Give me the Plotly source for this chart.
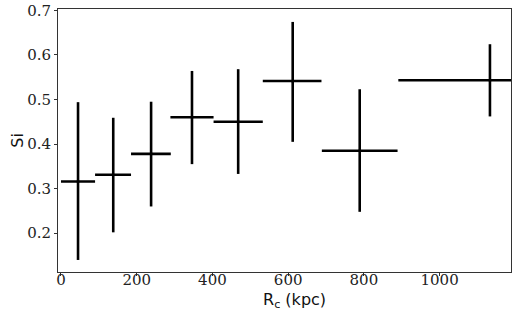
import plotly.graph_objects as go

rc = [45, 138, 238, 346, 468, 612, 789, 1133]
rc_lo = [0, 90, 185, 289, 403, 533, 689, 891]
rc_hi = [90, 185, 290, 403, 533, 688, 889, 1375]
si = [0.316, 0.331, 0.378, 0.460, 0.450, 0.5415, 0.385, 0.543]
si_lo = [0.140, 0.202, 0.260, 0.355, 0.333, 0.405, 0.248, 0.462]
si_hi = [0.494, 0.459, 0.495, 0.564, 0.568, 0.674, 0.523, 0.624]
xticks = [0, 200, 400, 600, 800, 1000]
yticks = [0.2, 0.3, 0.4, 0.5, 0.6, 0.7]

ex_m = [c - l for c, l in zip(rc, rc_lo)]
ex_p = [h - c for c, h in zip(rc, rc_hi)]
ey_m = [c - l for c, l in zip(si, si_lo)]
ey_p = [h - c for c, h in zip(si, si_hi)]

fig = go.Figure()
fig.add_trace(go.Scatter(
    x=rc, y=si, mode="markers",
    marker=dict(color="black", size=3),
    error_x=dict(type="data", symmetric=False, array=ex_p, arrayminus=ex_m,
                 color="black", thickness=2.6, width=0),
    error_y=dict(type="data", symmetric=False, array=ey_p, arrayminus=ey_m,
                 color="black", thickness=2.6, width=0),
    showlegend=False, cliponaxis=True,
))

tickfont = dict(family="DejaVu Serif", size=15, color="#222")
fig.update_layout(
    width=521, height=313, autosize=False,
    margin=dict(l=58, r=10, t=9, b=41, autoexpand=False),
    paper_bgcolor="white", plot_bgcolor="white",
    xaxis=dict(range=[-7.9, 1188.6], tickvals=xticks,
               ticktext=[str(v) for v in xticks],
               showgrid=False, zeroline=False, automargin=False,
               showline=True, mirror=True, linecolor="#333", linewidth=1,
               ticks="outside", ticklen=3, tickcolor="#333",
               ticklabelstandoff=-9, ticklabeloverflow="allow",
               tickfont=tickfont),
    yaxis=dict(range=[0.113, 0.703], tickvals=yticks,
               ticktext=[f"{v:.1f}" for v in yticks],
               showgrid=False, zeroline=False, automargin=False,
               showline=True, mirror=True, linecolor="#333", linewidth=1,
               ticks="outside", ticklen=3, tickcolor="#333",
               ticklabelstandoff=0, ticklabeloverflow="allow",
               tickfont=tickfont),
    annotations=[
        dict(text="R<sub>c</sub> (kpc)", xref="paper", yref="paper",
             x=0.523, y=-0.108, xanchor="center", yanchor="middle", showarrow=False,
             font=dict(family="DejaVu Sans", size=16, color="#111")),
        dict(text="Si", xref="paper", yref="paper", x=-0.09, y=0.5,
             xanchor="center", yanchor="middle", textangle=-90, showarrow=False,
             font=dict(family="DejaVu Sans", size=16, color="#111")),
    ],
)
fig.write_html("out.html", config={"displayModeBar": False},
               post_script="document.body.style.margin='0';")
